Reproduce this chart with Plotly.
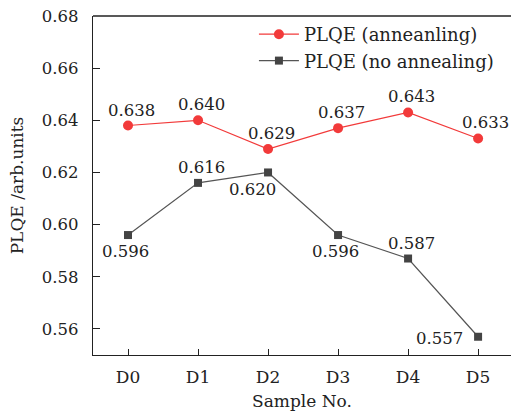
import plotly.graph_objects as go

samples = ["D0", "D1", "D2", "D3", "D4", "D5"]
anneal = [0.638, 0.640, 0.629, 0.637, 0.643, 0.633]
no_anneal = [0.596, 0.616, 0.620, 0.596, 0.587, 0.557]
yticks = [0.56, 0.58, 0.60, 0.62, 0.64, 0.66, 0.68]

# label placement keywords (style, not data)
anneal_pos = ["top", "top", "top", "top", "top", "top right"]
no_anneal_pos = ["bottom", "top", "bottom left", "bottom", "top", "left"]
OFFSETS = {
    "top": (3, 15.5), "top right": (7, 16), "bottom": (-3, -16),
    "bottom left": (-16, -17), "left": (-39, -1.5),
}

FONT = "DejaVu Serif"
x = list(range(len(samples)))

fig = go.Figure()
fig.add_trace(go.Scatter(
    x=x, y=anneal, mode="lines+markers", name="PLQE (anneanling)",
    line=dict(color="#f23a3a", width=1.2),
    marker=dict(symbol="circle", size=10, color="#f23a3a"),
    cliponaxis=False,
))
fig.add_trace(go.Scatter(
    x=x, y=no_anneal, mode="lines+markers", name="PLQE (no annealing)",
    line=dict(color="#555555", width=1.2),
    marker=dict(symbol="square", size=8, color="#444444"),
    cliponaxis=False,
))

annotations = []
for vals, poss in ((anneal, anneal_pos), (no_anneal, no_anneal_pos)):
    for xi, v, p in zip(x, vals, poss):
        dx, dy = OFFSETS[p]
        annotations.append(dict(
            x=xi, y=v, xref="x", yref="y", text=f"{v:.3f}", showarrow=False,
            xanchor="center", yanchor="middle", xshift=dx, yshift=dy,
            font=dict(family=FONT, size=16.5, color="#222"),
        ))

fig.update_layout(
    width=511, height=418,
    margin=dict(l=93, r=0, t=16, b=63),
    paper_bgcolor="white", plot_bgcolor="white",
    font=dict(family=FONT, size=16.5, color="#222"),
    showlegend=True,
    legend=dict(x=0.385, y=1.0, xanchor="left", yanchor="top",
                bgcolor="rgba(0,0,0,0)", font=dict(family=FONT, size=18),
                tracegroupgap=0, itemwidth=40),
    xaxis=dict(range=[-0.5, 5.47], tickmode="array", tickvals=x, ticktext=samples,
               showline=True, linecolor="#222", linewidth=1.3, ticks="inside",
               ticklen=6, tickcolor="#222", showgrid=False, zeroline=False,
               title=dict(text="Sample No.", standoff=9, font=dict(size=17)),
               ticklabelstandoff=6, tickfont=dict(size=17)),
    yaxis=dict(range=[0.55, 0.68], tickvals=yticks, tickformat=".2f",
               showline=True, linecolor="#222", linewidth=1.3, ticks="inside",
               ticklen=7, tickcolor="#222", showgrid=False, zeroline=False,
               title=dict(text="PLQE /arb.units", standoff=13, font=dict(size=17)),
               ticklabelstandoff=10),
    annotations=annotations,
    shapes=[dict(type="line", xref="paper", yref="paper", x0=0, x1=1, y0=1, y1=1,
                 line=dict(color="#222", width=1.3))],
)

fig.write_html("out.html", config={"displayModeBar": False},
               post_script="document.body.style.margin='0px';")
